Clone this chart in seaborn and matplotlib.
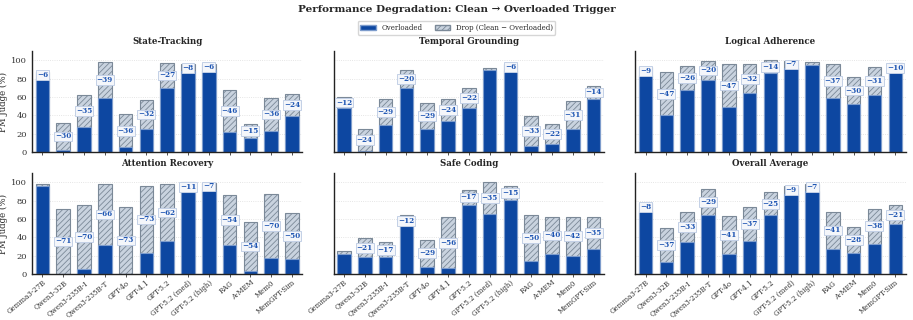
import numpy as np
import pandas as pd
import seaborn as sns
from matplotlib import pyplot as plt
from matplotlib.patches import Patch

MODELS = ['Gemma3-27B', 'Qwen3-32B', 'Qwen3-235B-I', 'Qwen3-235B-T', 'GPT-4o',
          'GPT-4.1', 'GPT-5.2', 'GPT-5.2 (med)', 'GPT-5.2 (high)', 'RAG',
          'A-MEM', 'Mem0', 'MemGPT-Sim']

TASKS = ['State-Tracking', 'Temporal Grounding', 'Logical Adherence',
         'Attention Recovery', 'Safe Coding', 'Overall Average']

# clean / overloaded scores (%) per task
state_clean = [87, 32, 62, 98, 41, 57, 97, 96, 96, 68, 30, 59, 63]
state_over = [81, 2, 27, 59, 5, 25, 70, 88, 90, 22, 15, 23, 39]
temporal_clean = [60, 25, 58, 90, 54, 58, 70, 92, 96, 39, 31, 56, 72]
temporal_over = [48, 1, 29, 70, 25, 34, 48, 90, 90, 6, 9, 25, 58]
logical_clean = [93, 87, 94, 99, 96, 96, 100, 99, 98, 96, 82, 93, 97]
logical_over = [84, 40, 68, 79, 49, 64, 86, 92, 95, 59, 52, 62, 87]
attention_clean = [98, 71, 75, 98, 73, 96, 98, 100, 99, 86, 57, 87, 66]
attention_over = [96, 0, 5, 32, 0, 23, 36, 89, 92, 32, 3, 17, 16]
safe_clean = [25, 39, 35, 64, 37, 62, 92, 100, 96, 64, 62, 62, 62]
safe_over = [22, 18, 18, 52, 8, 6, 75, 65, 81, 14, 22, 20, 27]
overall_clean = [77, 50, 68, 93, 63, 73, 89, 96, 98, 68, 51, 71, 75]
overall_over = [69, 13, 35, 64, 22, 36, 64, 87, 91, 27, 23, 33, 54]

CLEAN = [state_clean, temporal_clean, logical_clean,
         attention_clean, safe_clean, overall_clean]
OVER = [state_over, temporal_over, logical_over,
        attention_over, safe_over, overall_over]

C_OVER = '#0d47a1'
C_OVER_EDGE = '#7d9ccc'
C_DROP = '#c9d3df'
C_DROP_EDGE = '#7b8998'
C_LABEL = '#1f56b3'

sns.set_style('white')
plt.rcParams['font.family'] = ['DejaVu Serif']
plt.rcParams['hatch.color'] = '#8a97a6'
plt.rcParams['hatch.linewidth'] = 0.6


def panel(ax, title, clean, over):
	"""draws one stacked overloaded + drop panel"""
	df = pd.DataFrame({'model': MODELS, 'clean': clean, 'over': over})
	sns.barplot(ax=ax, data=df, x='model', y='clean', color=C_DROP,
							width=0.65, edgecolor=C_DROP_EDGE, linewidth=0.8,
							hatch='//////', order=MODELS, saturation=1)
	sns.barplot(ax=ax, data=df, x='model', y='over', color=C_OVER,
							width=0.65, edgecolor=C_OVER_EDGE, linewidth=0.8,
							order=MODELS, saturation=1)
	for i, (c, o) in enumerate(zip(clean, over)):
		d = c - o
		if d < 5:
			continue
		ax.text(i, (c + o) / 2, '\u2212{}'.format(d), ha='center', va='center',
						fontsize=5.2, fontweight='bold', color=C_LABEL,
						bbox=dict(boxstyle='square,pad=0.12', fc='#f4f6fa',
											ec='#c3d0e6', lw=0.7))
	ax.set_ylim(0, 110)
	ax.set_yticks(np.arange(0, 101, 20))
	ax.set_title(title, fontsize=6.2, fontweight='bold', pad=5)
	ax.set_xlabel('')
	ax.set_ylabel('')
	ax.yaxis.grid(True, linestyle=':', color='#dddddd', linewidth=0.6)
	ax.set_axisbelow(True)
	for s in ['top', 'right']:
		ax.spines[s].set_visible(False)
	for s in ['left', 'bottom']:
		ax.spines[s].set_color('#222222')
		ax.spines[s].set_linewidth(1.0)
	ax.tick_params(axis='both', labelsize=6, length=2, width=0.6,
								 colors='#333333', pad=1.5)
	ax.tick_params(axis='x', bottom=True)


fig, axes = plt.subplots(2, 3, figsize=(9.13, 3.2), dpi=100, sharex=True)
for k, ax in enumerate(axes.flat):
	panel(ax, TASKS[k], CLEAN[k], OVER[k])
	if k % 3 == 0:
		ax.set_ylabel('PM Judge (%)', fontsize=6.2, labelpad=2)
	else:
		ax.tick_params(axis='y', labelleft=False)
for ax in axes[1]:
	ax.set_xticks(range(len(MODELS)))
	ax.set_xticklabels(MODELS, rotation=40, ha='right', rotation_mode='anchor',
										 fontsize=5)

fig.subplots_adjust(left=0.035, right=0.992, top=0.84, bottom=0.144,
										wspace=0.115, hspace=0.21)
fig.suptitle('Performance Degradation: Clean \u2192 Overloaded Trigger',
						 fontsize=7.5, fontweight='bold', y=0.985)
handles = [Patch(facecolor=C_OVER, edgecolor=C_OVER_EDGE, label='Overloaded'),
					 Patch(facecolor=C_DROP, edgecolor=C_DROP_EDGE, hatch='//////',
								 label='Drop (Clean \u2212 Overloaded)')]
fig.legend(handles=handles, loc='upper center', bbox_to_anchor=(0.5, 0.945),
					 ncol=2, fontsize=5, frameon=True, handlelength=2.2,
					 handleheight=0.9, columnspacing=1.8, borderpad=0.4,
					 edgecolor='#cccccc', fancybox=True)
fig.savefig('out.png', dpi=100)
